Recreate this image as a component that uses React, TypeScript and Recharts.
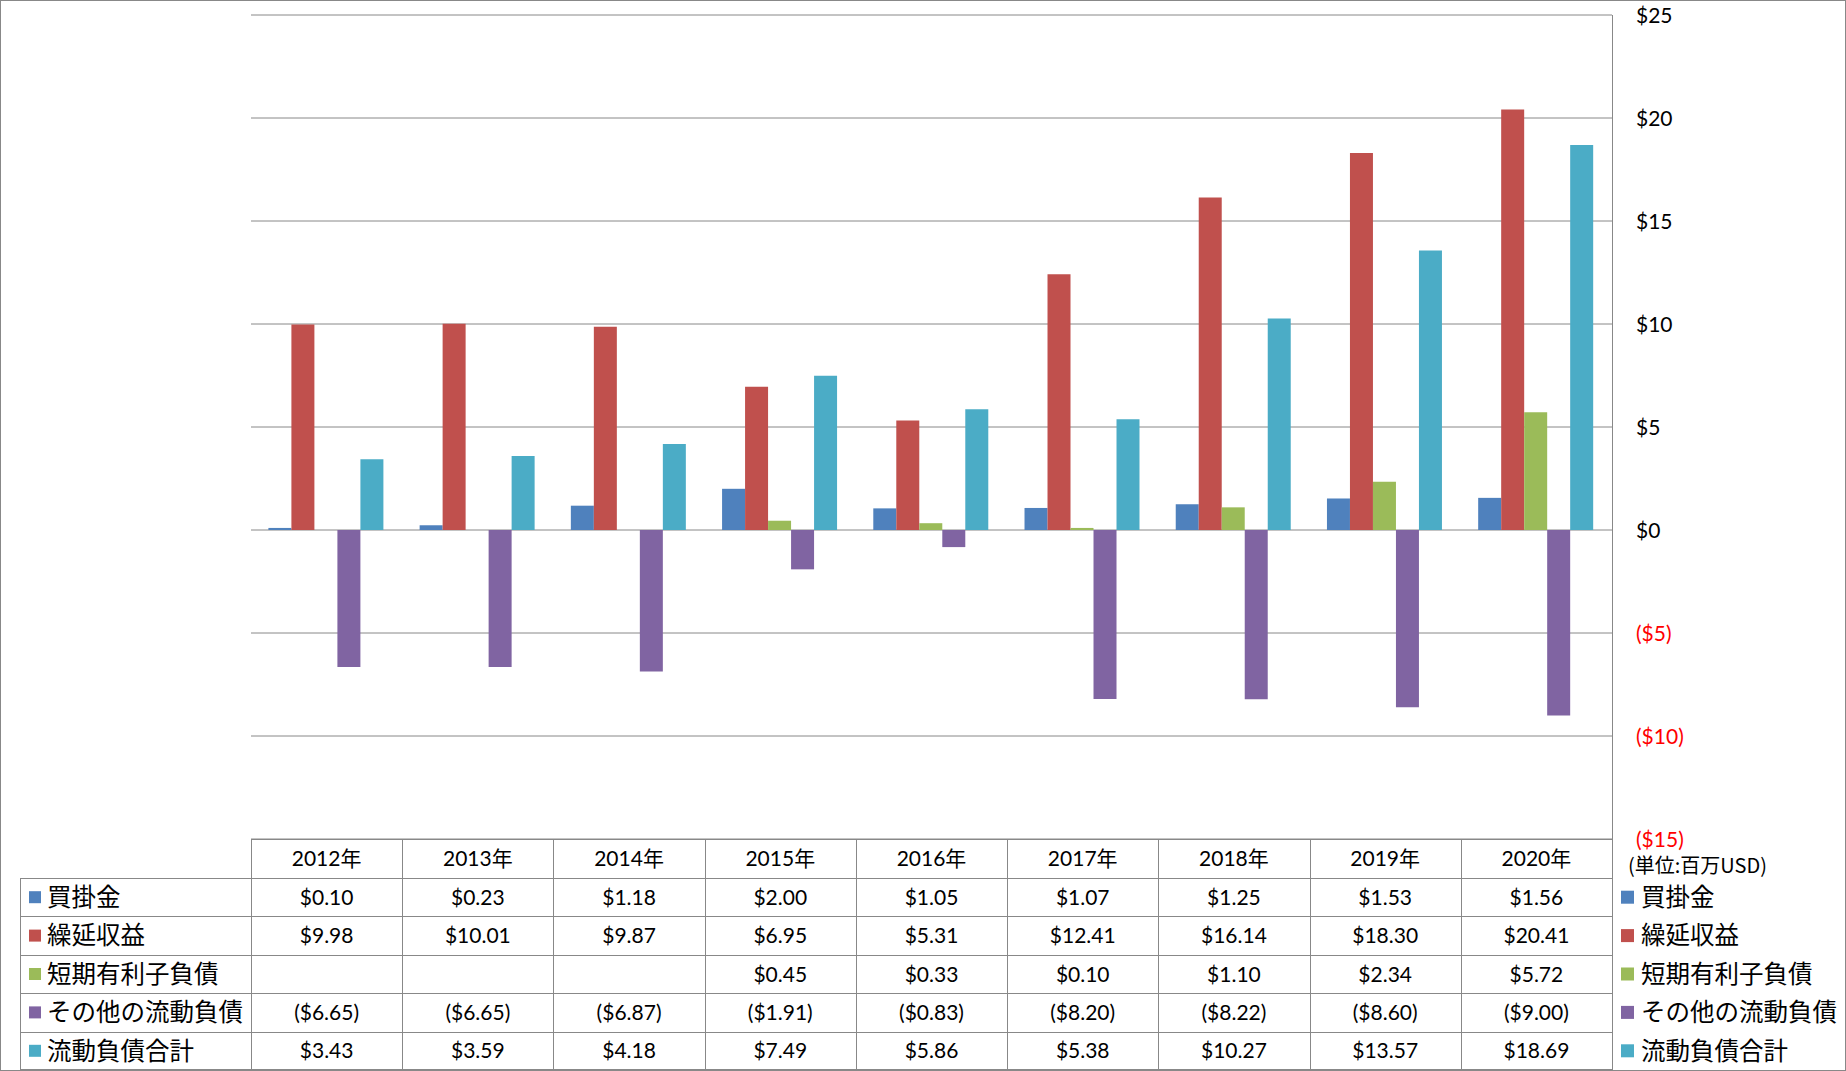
import { Bar, BarChart, CartesianGrid, XAxis, YAxis } from "recharts"

const years = ["2012年", "2013年", "2014年", "2015年", "2016年", "2017年", "2018年", "2019年", "2020年"]
const seriesNames = ["買掛金", "繰延収益", "短期有利子負債", "その他の流動負債", "流動負債合計"]
const payables = [0.1, 0.23, 1.18, 2.0, 1.05, 1.07, 1.25, 1.53, 1.56]
const deferredRevenue = [9.98, 10.01, 9.87, 6.95, 5.31, 12.41, 16.14, 18.3, 20.41]
const shortTermDebt = [null, null, null, 0.45, 0.33, 0.1, 1.1, 2.34, 5.72]
const otherLiabilities = [-6.65, -6.65, -6.87, -1.91, -0.83, -8.2, -8.22, -8.6, -9.0]
const totalLiabilities = [3.43, 3.59, 4.18, 7.49, 5.86, 5.38, 10.27, 13.57, 18.69]
const yTicks = [-15, -10, -5, 0, 5, 10, 15, 20, 25]

const colors = ["#4F81BD", "#C0504D", "#9BBB59", "#8064A2", "#4BACC6"]
const series = [payables, deferredRevenue, shortTermDebt, otherLiabilities, totalLiabilities]

const chartData = years.map((year, i) => {
  const row: Record<string, string | number | null> = { year }
  series.forEach((s, k) => (row["s" + k] = s[i]))
  return row
})

const W = 1846
const H = 1071
const PLOT_LEFT = 251
const PLOT_RIGHT = 1612
const PLOT_TOP = 15
const PLOT_BOTTOM = 839
const AXIS_W = 100
const COL_W = (PLOT_RIGHT - PLOT_LEFT) / years.length
const HEAD_H = 39
const ROW_H = (H - 1 - PLOT_BOTTOM - HEAD_H) / seriesNames.length
const LEG_X = 20
const GRID = "#888888"
const NUM_FONT = "Lato, 'Noto Sans CJK JP', sans-serif"
const JP_FONT = "'Noto Sans CJK JP', sans-serif"

const money = (v: number | null) =>
  v == null ? "" : v < 0 ? `($${Math.abs(v).toFixed(2)})` : `$${v.toFixed(2)}`
const axisMoney = (v: number) => (v < 0 ? `($${-v})` : `$${v}`)

function AxisTick({ x, y, payload }: any) {
  const v = payload.value as number
  return (
    <text
      x={x + 24}
      y={y}
      dy="0.36em"
      textAnchor="start"
      fontSize={21}
      fontFamily={NUM_FONT}
      fill={v < 0 ? "#FF0000" : "#000000"}
    >
      {axisMoney(v)}
    </text>
  )
}

function DataTable() {
  const rowTop = (k: number) => PLOT_BOTTOM + HEAD_H + k * ROW_H
  const bottom = rowTop(seriesNames.length)
  return (
    <svg width={W} height={H} style={{ position: "absolute", left: 0, top: 0, pointerEvents: "none" }}>
      <rect x={0.5} y={0.5} width={W - 1} height={H - 1} fill="none" stroke={GRID} />
      <line x1={PLOT_LEFT} x2={PLOT_RIGHT} y1={PLOT_BOTTOM + 0.5} y2={PLOT_BOTTOM + 0.5} stroke={GRID} />
      {seriesNames.map((_, k) => (
        <line key={"h" + k} x1={LEG_X} x2={PLOT_RIGHT} y1={Math.round(rowTop(k)) + 0.5} y2={Math.round(rowTop(k)) + 0.5} stroke={GRID} />
      ))}
      <line x1={LEG_X} x2={PLOT_RIGHT} y1={H - 1.5} y2={H - 1.5} stroke={GRID} />
      <line x1={LEG_X + 0.5} x2={LEG_X + 0.5} y1={rowTop(0)} y2={bottom} stroke={GRID} />
      {years.map((_, i) => (
        <line key={"v" + i} x1={Math.round(PLOT_LEFT + i * COL_W) + 0.5} x2={Math.round(PLOT_LEFT + i * COL_W) + 0.5} y1={PLOT_BOTTOM} y2={bottom} stroke={GRID} />
      ))}
      <line x1={PLOT_RIGHT + 0.5} x2={PLOT_RIGHT + 0.5} y1={PLOT_TOP} y2={bottom} stroke={GRID} />

      {years.map((y, i) => (
        <text key={"y" + i} x={PLOT_LEFT + (i + 0.5) * COL_W} y={PLOT_BOTTOM + HEAD_H / 2} dy="0.36em" textAnchor="middle" fontSize={21} fontFamily={NUM_FONT} fill="#000">
          {y}
        </text>
      ))}

      {seriesNames.map((name, k) => {
        const cy = rowTop(k) + ROW_H / 2
        return (
          <g key={"r" + k}>
            <rect x={29} y={cy - 6} width={12} height={12} fill={colors[k]} />
            <text x={47} y={cy} dy="0.36em" fontSize={24.5} fontFamily={JP_FONT} fill="#000">
              {name}
            </text>
            {series[k].map((v, i) => (
              <text key={i} x={PLOT_LEFT + (i + 0.5) * COL_W} y={cy} dy="0.36em" textAnchor="middle" fontSize={21} fontFamily={NUM_FONT} fill="#000">
                {money(v)}
              </text>
            ))}
            <rect x={1621} y={cy - 6.5} width={13} height={13} fill={colors[k]} />
            <text x={1641} y={cy} dy="0.36em" fontSize={24.5} fontFamily={JP_FONT} fill="#000">
              {name}
            </text>
          </g>
        )
      })}

      <text x={1628} y={866} dy="0.36em" fontSize={20} fontFamily={JP_FONT} fill="#000">
        (単位:百万USD)
      </text>
    </svg>
  )
}

export default function App() {
  return (
    <div style={{ position: "absolute", left: 0, top: 0, width: W, height: H, background: "#fff" }}>
      <BarChart
        width={W}
        height={H}
        data={chartData}
        margin={{ top: PLOT_TOP, right: W - PLOT_RIGHT - AXIS_W, bottom: H - PLOT_BOTTOM, left: PLOT_LEFT }}
        barCategoryGap={17.4}
        barGap={0}
      >
        <CartesianGrid vertical={false} stroke={GRID} strokeOpacity={1} />
        <XAxis dataKey="year" hide />
        <YAxis
          orientation="right"
          domain={[-15, 25]}
          ticks={yTicks}
          interval={0}
          width={AXIS_W}
          tickSize={0}
          tickMargin={0}
          tickLine={false}
          axisLine={false}
          tick={<AxisTick />}
        />
        {seriesNames.map((name, k) => (
          <Bar key={name} dataKey={"s" + k} name={name} fill={colors[k]} isAnimationActive={false} />
        ))}
      </BarChart>
      <DataTable />
    </div>
  )
}
